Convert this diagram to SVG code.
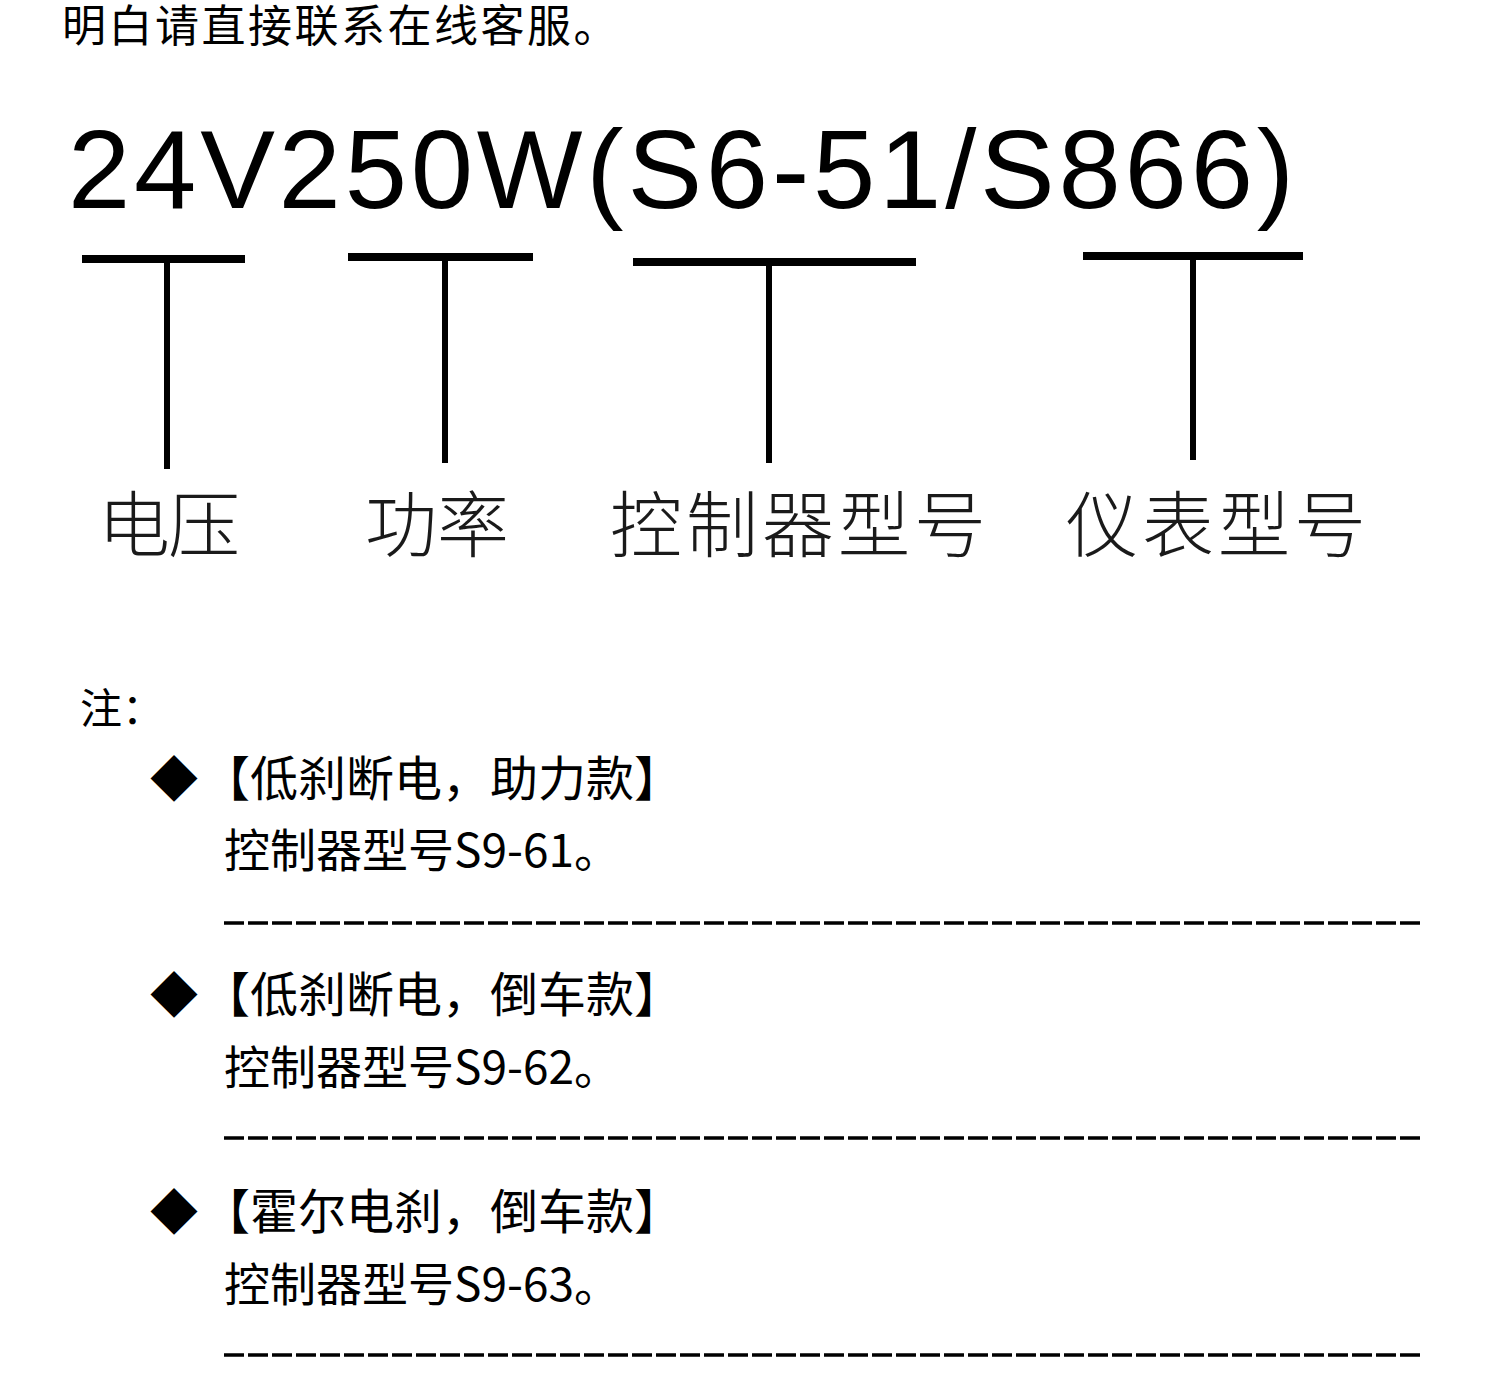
<svg xmlns="http://www.w3.org/2000/svg" width="1500" height="1400" viewBox="0 0 1500 1400">
<style>
.cjk{font-family:"Noto Sans CJK SC","Noto Sans",sans-serif;fill:#000}
.big{font-family:"Liberation Sans",Arial,sans-serif;font-size:112px;fill:#000}
.lbl{font-family:"Noto Sans CJK SC",sans-serif;font-size:72px;font-weight:300;fill:#1a1a1a}
.bar{fill:#000}
.dash{stroke:#000;stroke-width:3.5;stroke-dasharray:20 4;fill:none}
</style>
<rect width="1500" height="1400" fill="#fff"/>
<text class="cjk" x="62" y="42" font-size="44" letter-spacing="2.5">明白请直接联系在线客服。</text>
<text class="big" x="68" y="208" textLength="1226" lengthAdjust="spacing">24V250W(S6-51/S866)</text>
<g id="connectors">
  <g id="t-voltage"><rect class="bar" x="82" y="255" width="163" height="8"/><rect class="bar" x="164" y="262" width="6" height="207"/></g>
  <g id="t-power"><rect class="bar" x="348" y="253" width="185" height="8"/><rect class="bar" x="442" y="260" width="6" height="203"/></g>
  <g id="t-controller"><rect class="bar" x="633" y="258" width="283" height="8"/><rect class="bar" x="766" y="265" width="6" height="198"/></g>
  <g id="t-meter"><rect class="bar" x="1083" y="252" width="220" height="8"/><rect class="bar" x="1190" y="259" width="6" height="201"/></g>
</g>
<g id="label-voltage"><text class="lbl" x="98" y="551" letter-spacing="-2">电压</text></g>
<g id="label-power"><text class="lbl" x="365" y="551">功率</text></g>
<g id="label-controller"><text class="lbl" x="610" y="551" letter-spacing="4">控制器型号</text></g>
<g id="label-meter"><text class="lbl" x="1066" y="551" letter-spacing="4">仪表型号</text></g>
<g id="note">
  <text class="cjk" x="80" y="724" font-size="42">注：</text>
</g>
<g id="item1">
  <text class="cjk" x="150" y="796" font-size="48">◆</text>
  <text class="cjk" x="202" y="796" font-size="48">【低刹断电，助力款】</text>
  <text class="cjk" x="224" y="867" font-size="46">控制器型号S9-61。</text>
  <line class="dash" x1="224" y1="923" x2="1420" y2="923"/>
</g>
<g id="item2">
  <text class="cjk" x="150" y="1012" font-size="48">◆</text>
  <text class="cjk" x="202" y="1012" font-size="48">【低刹断电，倒车款】</text>
  <text class="cjk" x="224" y="1084" font-size="46">控制器型号S9-62。</text>
  <line class="dash" x1="224" y1="1138" x2="1420" y2="1138"/>
</g>
<g id="item3">
  <text class="cjk" x="150" y="1229" font-size="48">◆</text>
  <text class="cjk" x="202" y="1229" font-size="48">【霍尔电刹，倒车款】</text>
  <text class="cjk" x="224" y="1301" font-size="46">控制器型号S9-63。</text>
  <line class="dash" x1="224" y1="1355" x2="1420" y2="1355"/>
</g>
</svg>
